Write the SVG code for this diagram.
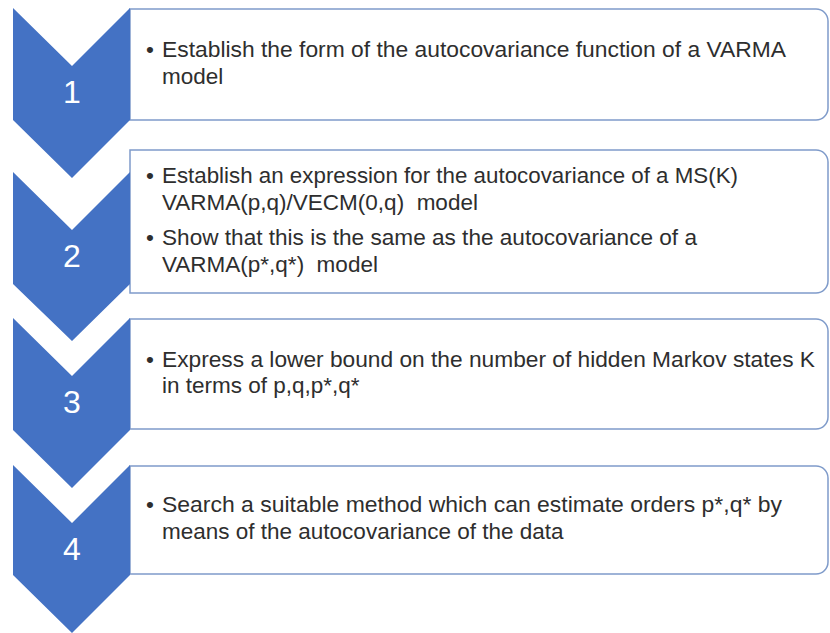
<svg xmlns="http://www.w3.org/2000/svg" width="830" height="633" viewBox="0 0 830 633">
<style>
.box{fill:#fff;stroke:#7f9bca;stroke-width:1.5}
.chev{fill:#4472c4}
.num{font-family:"Liberation Sans",Arial,sans-serif;font-size:32px;fill:#fff;text-anchor:middle}
.t{font-family:"Liberation Sans",Arial,sans-serif;font-size:22.5px;fill:#2e2e2e}
</style>
<rect width="830" height="633" fill="#fff"/>
<g id="step1">
<path class="box" d="M130,9 H816 A12,12 0 0 1 828,21 V108 A12,12 0 0 1 816,120 H130 Z"/>
<path class="chev" d="M13,8 L72,66 L130,8 V120 L72,178 L13,120 Z"/>
<text class="num" x="72" y="103">1</text>
<text class="t" x="146" y="57">•</text>
<text class="t" x="162" y="57" textLength="624" lengthAdjust="spacingAndGlyphs">Establish the form of the autocovariance function of a VARMA</text>
<text class="t" x="162" y="84">model</text>
</g>
<g id="step2">
<path class="box" d="M130,150 H816 A12,12 0 0 1 828,162 V281 A12,12 0 0 1 816,293 H130 Z"/>
<path class="chev" d="M13,172 L72,230 L130,172 V284 L72,341 L13,284 Z"/>
<text class="num" x="72" y="267">2</text>
<text class="t" x="146" y="183">•</text>
<text class="t" x="162" y="183" textLength="576" lengthAdjust="spacingAndGlyphs">Establish an expression for the autocovariance of a MS(K)</text>
<text class="t" x="162" y="210" xml:space="preserve">VARMA(p,q)/VECM(0,q)  model</text>
<text class="t" x="146" y="245">•</text>
<text class="t" x="162" y="245" textLength="535" lengthAdjust="spacingAndGlyphs">Show that this is the same as the autocovariance of a</text>
<text class="t" x="162" y="272" xml:space="preserve">VARMA(p*,q*)  model</text>
</g>
<g id="step3">
<path class="box" d="M130,319 H816 A12,12 0 0 1 828,331 V417 A12,12 0 0 1 816,429 H130 Z"/>
<path class="chev" d="M13,318 L72,376 L130,318 V430 L72,488 L13,430 Z"/>
<text class="num" x="72" y="413">3</text>
<text class="t" x="146" y="367">•</text>
<text class="t" x="162" y="367" textLength="653" lengthAdjust="spacingAndGlyphs">Express a lower bound on the number of hidden Markov states K</text>
<text class="t" x="162" y="393">in terms of p,q,p*,q*</text>
</g>
<g id="step4">
<path class="box" d="M130,466 H816 A12,12 0 0 1 828,478 V562 A12,12 0 0 1 816,574 H130 Z"/>
<path class="chev" d="M13,465 L72,523 L130,465 V575 L72,633 L13,575 Z"/>
<text class="num" x="72" y="560">4</text>
<text class="t" x="146" y="512">•</text>
<text class="t" x="162" y="512" textLength="620" lengthAdjust="spacingAndGlyphs">Search a suitable method which can estimate orders p*,q* by</text>
<text class="t" x="162" y="539">means of the autocovariance of the data</text>
</g>
<g id="connectors"></g>
</svg>
